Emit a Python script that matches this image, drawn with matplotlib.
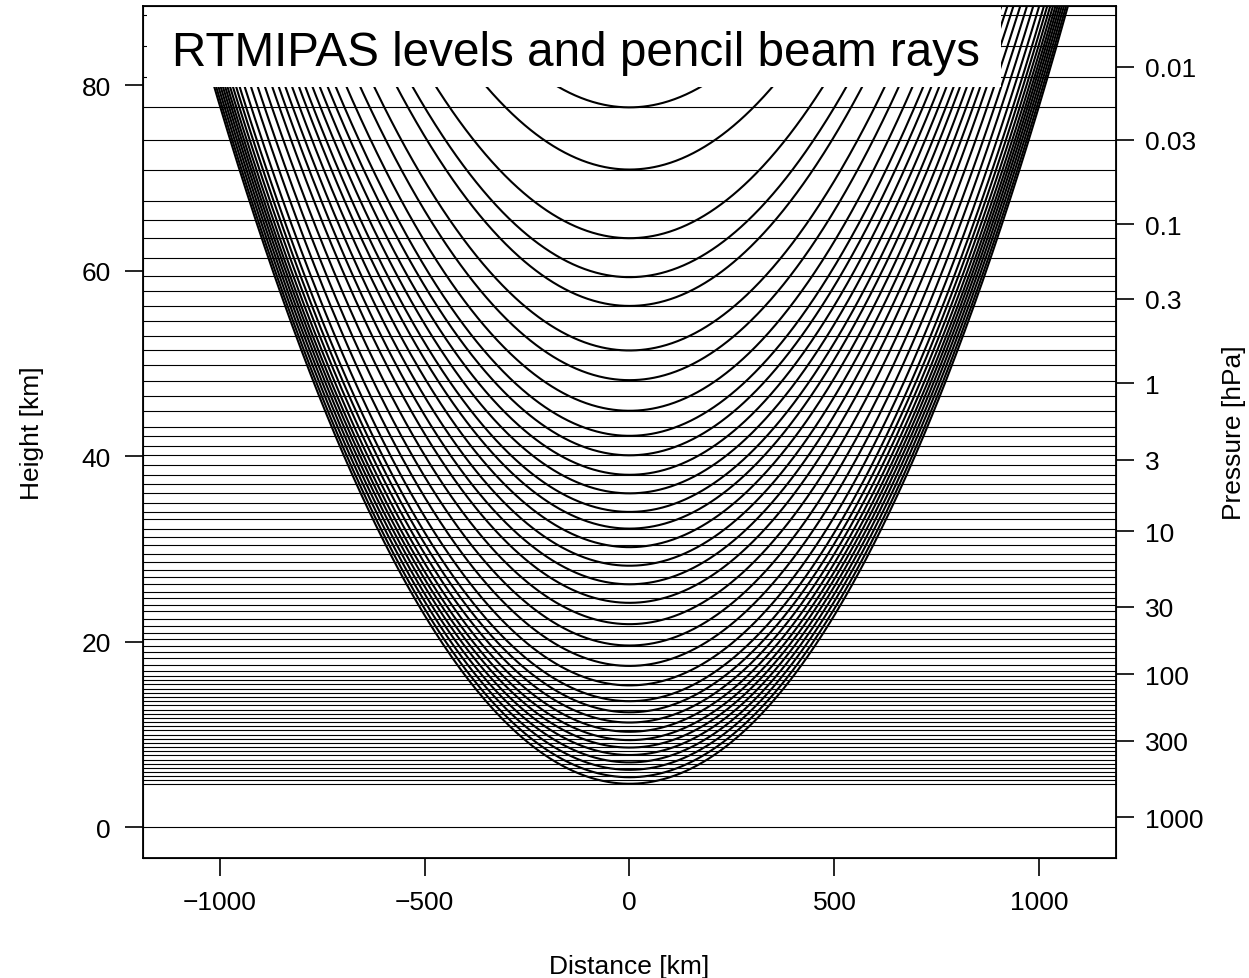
import numpy as np
import matplotlib
matplotlib.use('Agg')
from matplotlib import pyplot as plt
from matplotlib.patches import Rectangle

plt.rcParams['font.family'] = ['Liberation Sans', 'DejaVu Sans']

# model levels [km]
levels = [87.6, 84.2, 80.9, 77.6, 74.1, 70.8, 67.5, 65.5, 63.5, 61.4, 59.4, 57.8,
          56.2, 54.6, 53.0, 51.4, 49.8, 48.15, 46.5, 44.9, 43.2, 42.2, 41.1, 40.1,
          39.1, 38.0, 37.0, 36.0, 35.0, 34.0, 33.2, 32.2, 31.3, 30.4, 29.5, 28.6,
          27.7, 26.95, 26.2, 25.4, 24.7, 24.0, 23.3, 22.5, 21.7, 21.0, 20.3, 19.6,
          18.9, 18.2, 17.5, 16.9, 16.3, 15.85, 15.4, 14.95, 14.5, 14.05, 13.6, 13.15,
          12.7, 12.25, 11.8, 11.35, 10.9, 10.45, 10.0, 9.55, 9.1, 8.65, 8.2, 7.75,
          7.3, 6.85, 6.4, 5.95, 5.5, 5.1, 4.7, 0.0]

# tangent heights of the pencil beam rays [km]
tangent_heights = [4.7, 5.4, 6.2, 7.0, 7.8, 8.6, 9.4, 10.3, 11.3, 12.4, 13.6, 15.3,
                   17.4, 19.6, 21.9, 24.2, 26.2, 28.2, 30.2, 32.2, 34.0, 36.0, 38.0,
                   40.1, 42.2, 44.9, 48.2, 51.4, 56.2, 59.3, 63.5, 70.9, 77.6]

# right axis: pressure labels and their heights
p_labels = ['0.01', '0.03', '0.1', '0.3', '1', '3', '10', '30', '100', '300', '1000']
p_heights = [82.0, 74.1, 65.0, 57.0, 47.85, 39.6, 31.9, 23.8, 16.5, 9.33, 1.08]

R_eff = 6900.0  # effective earth radius [km]

fig = plt.figure(figsize=(12.49, 9.79), dpi=100)
ax = fig.add_axes([0.1145, 0.1226, 0.779, 0.87])

for h in levels:
    ax.axhline(h, color='black', lw=0.8, zorder=1)

dist = np.linspace(-1200, 1200, 1201)
for h0 in tangent_heights:
    z = (R_eff + h0) / np.cos(dist / R_eff) - R_eff
    ax.plot(dist, z, color='black', lw=1.5, zorder=2)

ax.set_xlim(-1187, 1187)
ax.set_ylim(-3.3, 88.5)
ax.set_xticks([-1000, -500, 0, 500, 1000])
ax.set_yticks([0, 20, 40, 60, 80])
ax.tick_params(direction='out', length=13, width=1.2, labelsize=19, pad=10)
ax.set_xlabel('Distance [km]', fontsize=19, labelpad=29)
ax.set_ylabel('Height [km]', fontsize=19, labelpad=27)
for s in ax.spines.values():
    s.set_linewidth(1.3)

# title box
ax.add_patch(Rectangle((0.004, 0.905), 0.878, 0.1, transform=ax.transAxes,
                       facecolor='white', edgecolor='none', zorder=5))
ax.text(0.4455, 0.946, 'RTMIPAS levels and pencil beam rays', transform=ax.transAxes,
        ha='center', va='center', fontsize=34.3, zorder=6)

ax2 = ax.twinx()
ax2.set_ylim(ax.get_ylim())
ax2.set_yticks(p_heights)
ax2.set_yticklabels(p_labels)
ax2.tick_params(direction='out', length=13, width=1.2, labelsize=19, pad=8)
ax2.set_ylabel('Pressure [hPa]', fontsize=19, labelpad=13)

fig.savefig('out.png', dpi=100)
